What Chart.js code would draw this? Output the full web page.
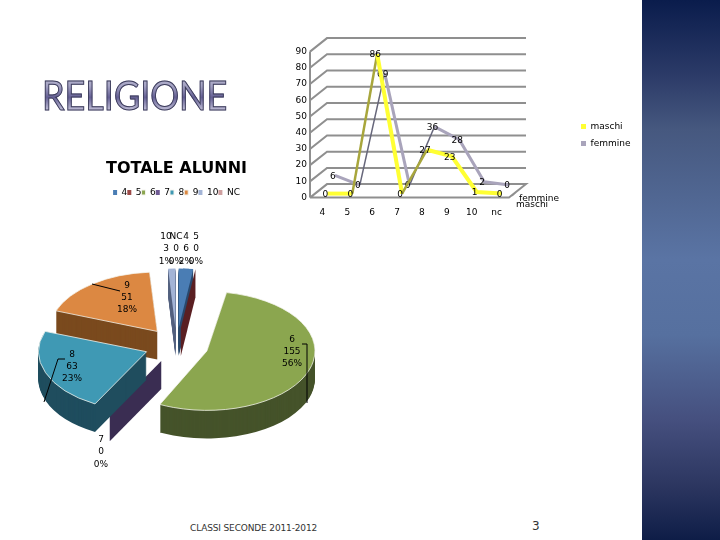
<!DOCTYPE html>
<html><head><meta charset="utf-8">
<script src="https://cdn.jsdelivr.net/npm/chart.js@4/dist/chart.umd.min.js"></script>
<style>
html,body{margin:0;padding:0;background:#fff;width:720px;height:540px;overflow:hidden;font-family:"DejaVu Sans",sans-serif}
canvas{position:absolute;display:block}
#side{position:absolute;left:642px;top:0;width:78px;height:540px;background:linear-gradient(180deg,#0a1c4c 0%,#2c3b68 14%,#46587f 24%,#5a74a4 48%,#56709f 62%,#454f7e 78%,#2c3660 90%,#0e1d47 100%)}
#head{position:absolute;left:42px;top:72px;font:400 40px/46px Lato,"Noto Sans",sans-serif;letter-spacing:0;color:transparent;background:linear-gradient(180deg,#c0bfd4 0%,#a5a3c4 30%,#645f94 55%,#c7c5dc 85%);-webkit-background-clip:text;background-clip:text;-webkit-text-stroke:1px #3c3c5a;transform-origin:0 0;transform:scaleX(.9)}
.foot{position:absolute;color:#333;font-size:9px;white-space:nowrap}
</style></head><body>
<div id="side"></div>
<div id="head">RELIGIONE</div>
<div class="foot" style="left:190px;top:523px;letter-spacing:-.15px">CLASSI SECONDE 2011-2012</div>
<div class="foot" style="left:532px;top:519px;font-size:12px">3</div>
<canvas id="lineChart" style="left:280px;top:30px" width="360" height="200"></canvas>
<canvas id="pieChart" style="left:0;top:150px" width="353" height="390"></canvas>
<script>
// ---- data
const lineCategories = ['4','5','6','7','8','9','10','nc'];
const maschiValues   = [0,0,86,0,27,23,1,0];
const femmineValues  = [6,0,69,0,36,28,2,0];
const yTickStep = 10;
const yMax = 90;

const pieCategories = ['4','5','6','7','8','9','10','NC'];
const pieValues     = [6,0,155,0,63,51,3,0];
const piePercents   = ['2%','0%','56%','0%','23%','18%','1%','0%'];
const chartTitle    = 'TOTALE ALUNNI';

// ---- styles
const pieFace = ['#4a7db4','#9c4a48','#8ba64f','#6f5a94','#3f99b4','#dc8842','#a3b4d6','#cfa0a0'];
const pieSide = ['#2b4a6e','#5a1f22','#45532a','#3a2d52','#1f4d5e','#7a4a1e','#55627f','#6b4a4a'];
const pieDepthOrder = [5,0,6,7,1,3,4,2];
const labelFont = '9px "DejaVu Sans"';
const squash = 0.55, depth = 28, pieRadius = 108, pieShift = 32, narrowAngle = 0.5;
const depthDx = 17, depthDy = 13.5;
const seriesShift = [{x:5,y:-4},{x:12.5,y:-12.5}];

const noStroke = chart => Chart.defaults.plugins.legend.labels.generateLabels(chart).map(i=>Object.assign(i,{lineWidth:0}));

const lineDepthPlugin = {
  id:'lineDepth',
  afterLayout(c){
    const l=c.legend; const w=l.width,h=l.height;
    l.left=293; l.right=293+w; l.top=84; l.bottom=84+h;
  },
  beforeDatasetsDraw(c){
    const g=c.ctx,y=c.scales.y,a=c.chartArea;
    g.save(); g.strokeStyle='#8f8f8f'; g.lineWidth=2;
    y.ticks.forEach(t=>{
      const p=y.getPixelForValue(t.value);
      g.beginPath();
      if(t.value===0){
        g.moveTo(a.left,p); g.lineTo(a.right,p); g.lineTo(a.right+depthDx,p-depthDy);
        g.lineTo(a.left+depthDx,p-depthDy); g.lineTo(a.left,p);
        g.moveTo(a.right+7,p-5.5); g.lineTo(a.right+3,p-2);
      } else {
        g.moveTo(a.left,p); g.lineTo(a.left+depthDx,p-depthDy); g.lineTo(a.right+depthDx,p-depthDy);
      }
      g.stroke();
    });
    g.beginPath(); g.moveTo(a.left,y.getPixelForValue(yMax)); g.lineTo(a.left,y.getPixelForValue(0)); g.stroke();
    g.restore();
    // depth axis names
    g.save(); g.fillStyle='#000'; g.font=labelFont; g.textAlign='left'; g.textBaseline='middle';
    g.fillText(c.data.datasets[1].label,a.right+10,y.getPixelForValue(0)+1);
    g.fillText(c.data.datasets[0].label,a.right+7,y.getPixelForValue(0)+7);
    g.restore();
  },
  beforeDatasetDraw(c,args){
    const s=seriesShift[args.index]; c.ctx.save(); c.ctx.translate(s.x,s.y);
  },
  afterDatasetDraw(c,args){
    const g=c.ctx,m=args.meta,vals=c.data.datasets[args.index].data;
    g.fillStyle='#000'; g.font=labelFont; g.textAlign='center'; g.textBaseline='middle';
    m.data.forEach((pt,i)=>g.fillText(String(vals[i]),pt.x-2,pt.y+1));
    g.restore();
  }
};

new Chart(document.getElementById('lineChart'),{
  type:'line',
  data:{labels:lineCategories,datasets:[
    {label:'maschi',data:maschiValues,clip:false,borderColor:'#ffff33',backgroundColor:'#ffff33',borderWidth:4,pointRadius:0,tension:0,
     segment:{borderColor:x=>x.p1.parsed.y>x.p0.parsed.y+1?'#a8a63c':'#ffff33',borderWidth:x=>x.p1.parsed.y>x.p0.parsed.y+1?2.5:4}},
    {label:'femmine',data:femmineValues,clip:false,borderColor:'#a9a4bb',backgroundColor:'#a9a4bb',borderWidth:3,pointRadius:0,tension:0,
     segment:{borderColor:x=>x.p1.parsed.y>x.p0.parsed.y+1?'#66667a':'#a9a4bb',borderWidth:x=>x.p1.parsed.y>x.p0.parsed.y+1?1.5:3}}
  ]},
  options:{responsive:false,animation:false,devicePixelRatio:1,
    layout:{padding:{top:21.6,right:131,left:0,bottom:0}},
    scales:{
      x:{offset:true,grid:{display:false,drawTicks:false},border:{display:false},afterFit:s=>{s.height=32.4},
         ticks:{font:{family:'DejaVu Sans',size:9},color:'#000',padding:10,maxRotation:0,autoSkip:false}},
      y:{min:0,max:yMax,grid:{display:false,drawTicks:false},border:{display:false},afterFit:s=>{s.width=30},
         ticks:{stepSize:yTickStep,font:{family:'DejaVu Sans',size:9},color:'#000',padding:3}}
    },
    plugins:{tooltip:{enabled:false},
      legend:{position:'chartArea',align:'start',labels:{boxWidth:5,boxHeight:5,padding:8,font:{family:'DejaVu Sans',size:9},color:'#000',generateLabels:noStroke}}}
  },
  plugins:[lineDepthPlugin]
});

function sliceWall(g,a,off){
  // a zero-size slice still shows its extruded side
  const ang=a.startAngle, ox=a.x+Math.cos(ang)*off, oy=a.y+Math.sin(ang)*off*squash;
  const r=a.outerRadius+off, rx=ox+Math.cos(ang)*r, ry=oy+Math.sin(ang)*r*squash;
  g.beginPath(); g.moveTo(ox,oy); g.lineTo(rx,ry); g.lineTo(rx,ry+depth); g.lineTo(ox,oy+depth); g.closePath(); g.fill();
}
function thinSlice(g,a,color){
  // thin slices keep their true angle; path taken from the arc element's own angles
  const mid=(a.startAngle+a.endAngle)/2, ax=a.x+Math.cos(mid)*pieShift, ay=a.y+Math.sin(mid)*pieShift;
  g.fillStyle=color; g.beginPath(); g.moveTo(ax,ay); g.arc(ax,ay,pieRadius,a.startAngle,a.endAngle); g.closePath(); g.fill();
}
const pieDepthPlugin = {
  id:'pieDepth',
  afterDatasetUpdate(c,args){
    // Arc.draw widens a slice by offset*(1-sin(angle)); even that out so all rims share one radius
    args.meta.data.forEach(a=>{
      const fix=1-Math.sin(Math.min(Math.PI,a.circumference||0));
      a.outerRadius=pieRadius-pieShift*fix;
    });
  },
  beforeDatasetDraw(c,args){
    const g=c.ctx, arcs=args.meta.data, cx=arcs[0].x, cy=arcs[0].y;
    g.save();
    pieDepthOrder.forEach(i=>{
      const a=arcs[i], o=a.options;
      if(a.circumference<1e-6){
        g.fillStyle=pieSide[i]; sliceWall(g,a,pieShift); return;
      }
      const thin=a.circumference<narrowAngle;
      const saved=a.options;
      a.options=Object.assign({},o,{backgroundColor:pieSide[i],borderWidth:0});
      for(let d=depth;d>0;d--){
        g.save(); g.translate(cx,cy+d); g.scale(1,squash); g.translate(-cx,-cy);
        if(thin) thinSlice(g,a,pieSide[i]); else a.draw(g);
        g.restore();
      }
      a.options=saved;
    });
    g.translate(cx,cy); g.scale(1,squash); g.translate(-cx,-cy);
  },
  afterDatasetDraw(c,args){
    args.meta.data.forEach((a,i)=>{
      if(a.circumference>1e-6 && a.circumference<narrowAngle) thinSlice(c.ctx,a,pieFace[i]);
    });
    c.ctx.restore();
  },
  afterDraw(c){
    const g=c.ctx, T=-150;
    const show=(i,x,ys)=>{
      const lines=[pieCategories[i],String(pieValues[i]),piePercents[i]];
      lines.forEach((t,n)=>g.fillText(t,x,ys[n]+T));
    };
    g.save(); g.fillStyle='#000'; g.font=labelFont; g.textAlign='center'; g.textBaseline='middle';
    show(2,292,[340,352,364]); show(4,72,[355,367,379]); show(5,127,[286,298,310]); show(3,101,[440,452,465]);
    show(6,166,[237,249,262]); show(7,176,[237,249,262]); show(0,186,[237,249,262]); show(1,196,[237,249,262]);
    g.strokeStyle='#000'; g.lineWidth=1;
    [[[302,344],[307,344],[307,403]],[[65,359],[58,359],[44,402]],[[120,291],[92,284]]].forEach(p=>{
      g.beginPath(); p.forEach((q,n)=>n?g.lineTo(q[0],q[1]+T):g.moveTo(q[0],q[1]+T)); g.stroke();
    });
    g.restore();
  }
};

new Chart(document.getElementById('pieChart'),{
  type:'pie',
  data:{labels:pieCategories,datasets:[{data:pieValues,backgroundColor:pieFace,borderColor:'#f4f4ee',
    borderWidth:x=>x.raw<10?0:1,offset:pieShift*4,radius:pieRadius,clip:false}]},
  options:{responsive:false,animation:false,devicePixelRatio:1,
    layout:{padding:{bottom:56}},
    plugins:{tooltip:{enabled:false},
      title:{display:true,text:chartTitle,color:'#000',font:{family:'DejaVu Sans',size:16,weight:'bold'},padding:{top:9.4,bottom:9.4}},
      legend:{position:'top',labels:{boxWidth:4,boxHeight:5,padding:0,font:{family:'DejaVu Sans',size:9},color:'#000'}}}
  },
  plugins:[pieDepthPlugin]
});
</script>
</body></html>
